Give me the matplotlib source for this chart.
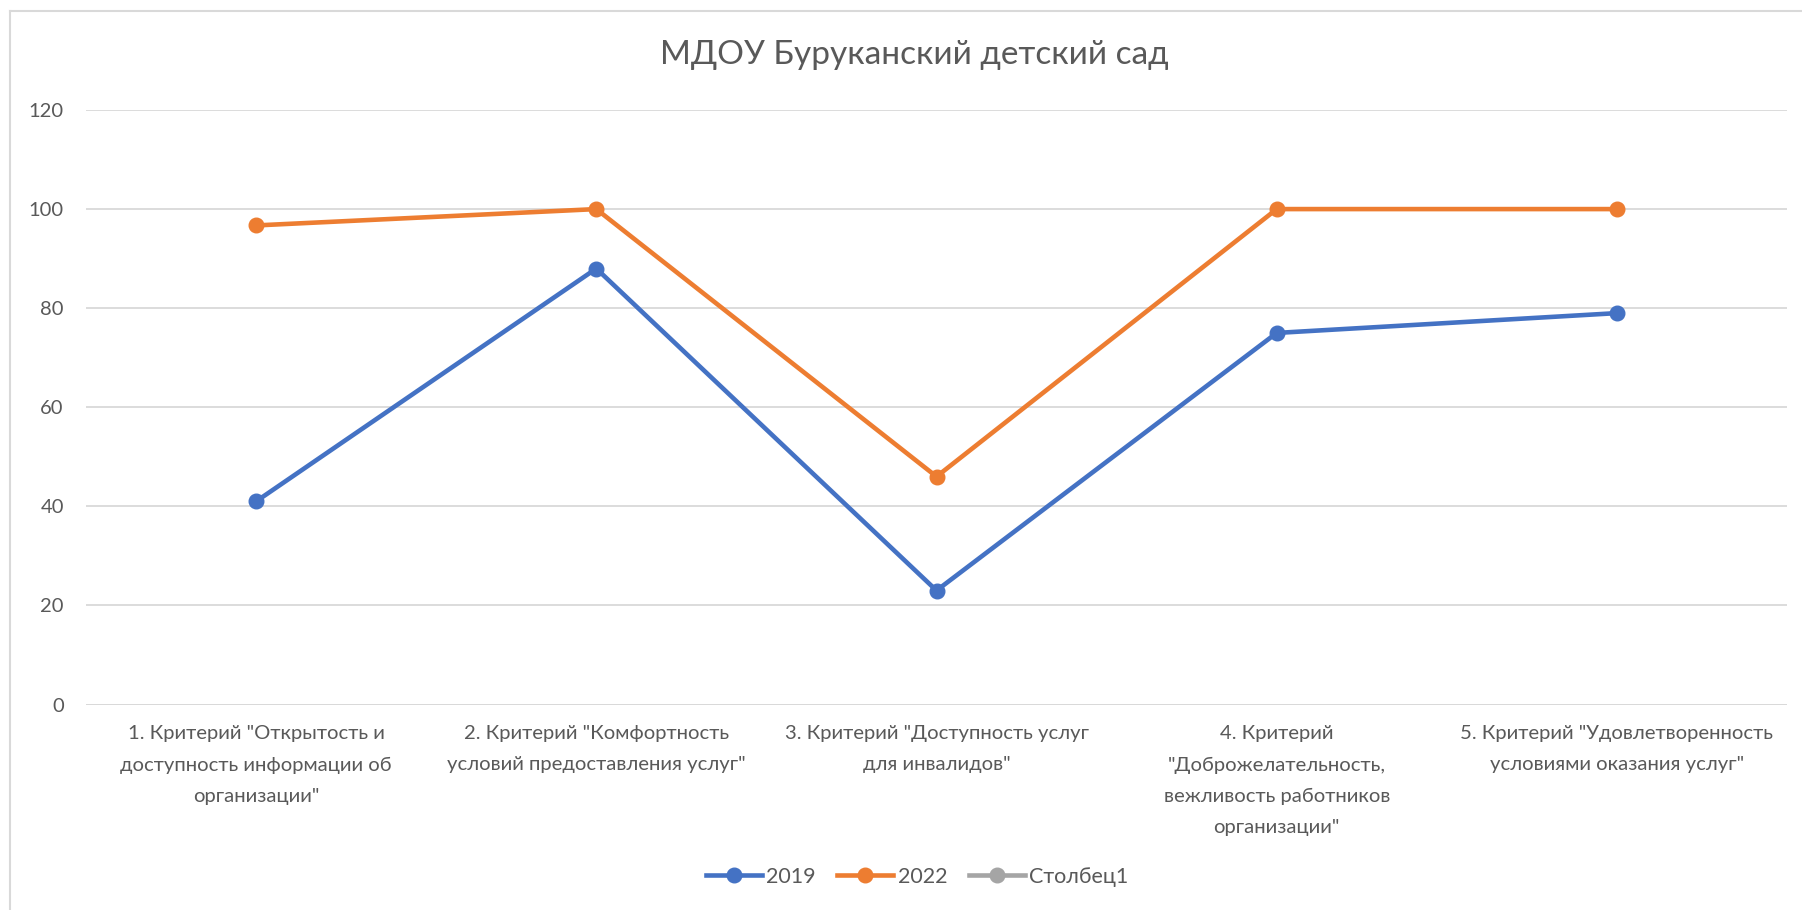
import numpy as np
import matplotlib.pyplot as plt
from matplotlib.lines import Line2D

plt.rcParams['font.family'] = ['Lato', 'DejaVu Sans']

categories = ['1. Критерий "Открытость и\nдоступность информации об\nорганизации"',
              '2. Критерий "Комфортность\nусловий предоставления услуг"',
              '3. Критерий "Доступность услуг\nдля инвалидов"',
              '4. Критерий\n"Доброжелательность,\nвежливость работников\nорганизации"',
              '5. Критерий "Удовлетворенность\nусловиями оказания услуг"']
v2019 = [41, 88, 23, 75, 79]
v2022 = [96.7, 100, 46, 100, 100]
stolbec1 = [np.nan] * 5
yticks = [0, 20, 40, 60, 80, 100, 120]

txt = '#595959'
W, H = 1802, 910
fig = plt.figure(figsize=(W / 100, H / 100), dpi=100)
ax = fig.add_axes([86 / W, 1 - 704.5 / H, (1787 - 86) / W, (704.5 - 110) / H])

x = np.arange(len(categories))
ax.plot(x, v2019, '-o', color='#4472C4', lw=3.3, ms=10.5, label='2019', zorder=3)
ax.plot(x, v2022, '-o', color='#ED7D31', lw=3.3, ms=10.5, label='2022', zorder=3)
ax.plot(x, stolbec1, '-o', color='#A5A5A5', lw=3.3, ms=10.5, label='Столбец1', zorder=3)

ax.set_xlim(-0.5, 4.5)
ax.set_ylim(0, 120)
ax.set_yticks(yticks)
ax.yaxis.grid(True, color='#D9D9D9', lw=1.3)
ax.set_axisbelow(True)
for s in ax.spines.values():
    s.set_visible(False)
ax.tick_params(axis='both', length=0, labelcolor=txt)
ax.tick_params(axis='y', pad=16, labelsize=14.5)
ax.tick_params(axis='x', pad=15, labelsize=14.6)
ax.set_xticks(x)
ax.set_xticklabels(categories, linespacing=2.0)
ax.axhline(0, color='#D9D9D9', lw=1.3)

fig.text(914 / W, 1 - 55 / H, 'МДОУ Буруканский детский сад', ha='center', va='center',
         fontsize=24, color=txt)

fig.legend(loc='center', bbox_to_anchor=(917 / W, 1 - 877 / H), ncol=3, frameon=False,
           fontsize=15.5, labelcolor=txt, handlelength=2.6, columnspacing=1.0, handletextpad=0.2)

# chart border
fig.add_artist(Line2D([9.5 / W, 9.5 / W], [0, 1 - 11 / H], color='#D9D9D9', lw=1.5))
fig.add_artist(Line2D([9.5 / W, 1], [1 - 11 / H, 1 - 11 / H], color='#D9D9D9', lw=1.5))

fig.savefig('out.png', dpi=100)
